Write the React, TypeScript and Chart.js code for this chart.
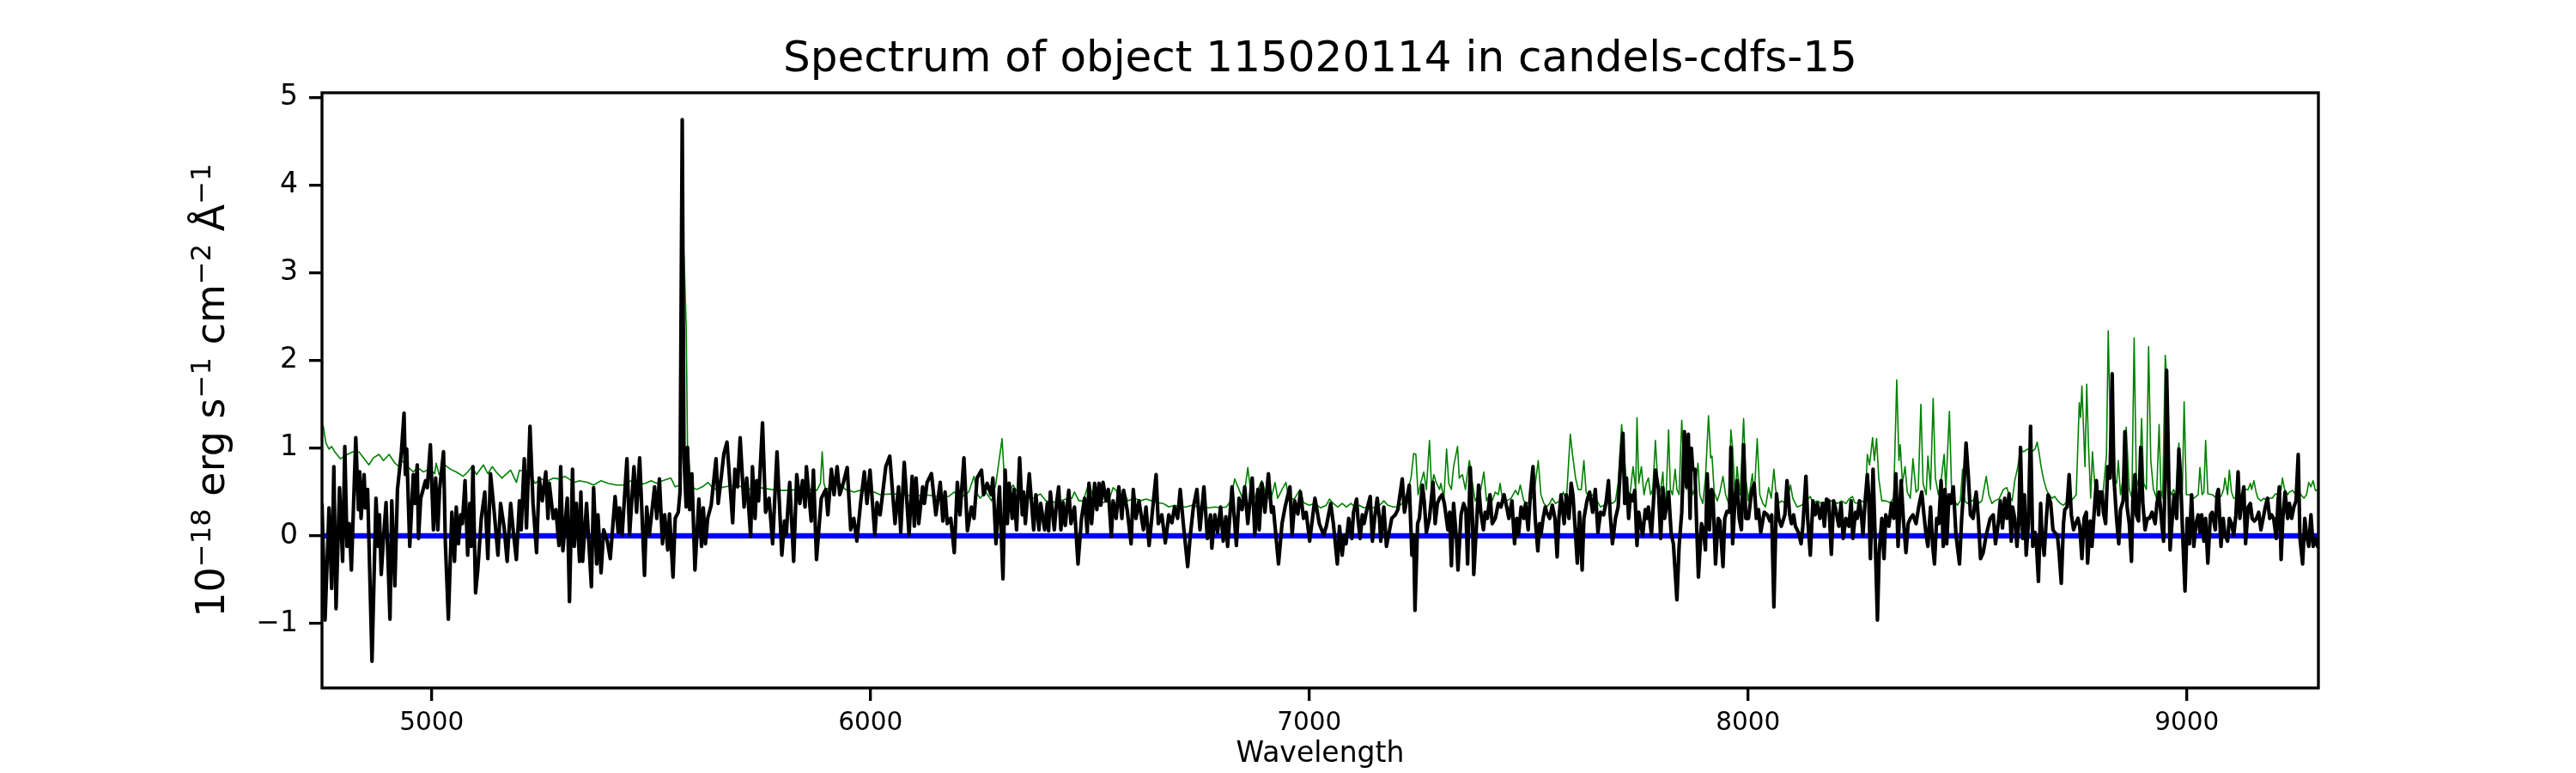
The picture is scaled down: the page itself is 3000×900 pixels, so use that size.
import React, { useEffect, useRef } from "react";
import { Chart, registerables } from "chart.js";

Chart.register(...registerables);

const TITLE = "Spectrum of object 115020114 in candels-cdfs-15";
const X_TITLE = "Wavelength";
const Y_TITLE_PARTS: [string, boolean][] = [
  ["10", false],
  ["\u221218", true],
  [" erg s", false],
  ["\u22121", true],
  [" cm", false],
  ["\u22122", true],
  [" \u00C5", false],
  ["\u22121", true],
];
const X_TICKS = [5000, 6000, 7000, 8000, 9000];
const Y_TICKS = [-1, 0, 1, 2, 3, 4, 5];
const X_RANGE = [4750, 9300];
const Y_RANGE = [-1.735, 5.056];

// observed flux (black)
const FLUX: [number, number][] = [
  [4750,0.37],[4757,-0.96],[4766,0.32],[4772,-0.60],[4777,0.79],[4782,-0.83],[4790,0.55],[4797,-0.29],[4802,1.02],[4807,-0.12],
  [4812,0.14],[4817,-0.39],[4827,1.12],[4833,0.30],[4836,0.73],[4839,0.20],[4846,0.70],[4849,0.32],[4854,0.53],[4864,-1.43],
  [4873,0.43],[4878,-0.12],[4881,0.24],[4885,-0.44],[4890,-0.03],[4896,0.38],[4905,-0.95],[4909,0.40],[4916,-0.57],[4922,0.53],
  [4931,0.96],[4937,1.40],[4940,0.70],[4943,0.99],[4950,-0.12],[4958,0.70],[4962,0.37],[4967,0.81],[4970,-0.03],[4975,0.43],
  [4986,0.63],[4990,0.55],[4997,1.04],[5004,0.07],[5009,0.66],[5014,0.07],[5018,0.53],[5027,0.96],[5031,-0.06],[5038,-0.95],
  [5046,0.27],[5052,-0.29],[5056,0.33],[5061,-0.09],[5066,0.24],[5070,0.14],[5076,0.63],[5082,-0.22],[5087,0.37],[5090,-0.12],
  [5094,0.79],[5100,-0.65],[5105,-0.39],[5113,0.20],[5121,0.50],[5128,-0.26],[5134,0.71],[5142,0.30],[5151,-0.22],[5157,0.37],
  [5165,0.10],[5172,-0.29],[5180,0.37],[5186,0.05],[5193,-0.27],[5200,0.40],[5204,0.07],[5211,0.88],[5216,0.09],[5224,1.25],
  [5231,0.37],[5239,-0.19],[5245,0.66],[5252,0.40],[5260,0.73],[5265,0.20],[5268,0.60],[5277,0.20],[5283,0.30],[5290,-0.11],
  [5294,0.79],[5299,-0.17],[5309,0.43],[5314,-0.75],[5321,0.76],[5325,-0.12],[5330,0.37],[5337,-0.29],[5340,0.50],[5344,-0.29],
  [5353,0.37],[5364,-0.58],[5369,0.55],[5376,-0.32],[5379,0.24],[5386,-0.42],[5392,0.07],[5400,-0.05],[5407,-0.26],[5418,0.45],
  [5425,0.04],[5428,0.32],[5434,0.01],[5445,0.88],[5451,0.01],[5461,0.79],[5467,0.27],[5474,0.89],[5485,-0.45],[5490,0.33],
  [5496,0.01],[5508,0.56],[5513,0.20],[5519,0.65],[5526,-0.09],[5531,0.24],[5538,-0.16],[5542,0.25],[5550,-0.47],[5555,0.20],
  [5562,0.27],[5566,0.50],[5571,4.75],[5575,0.90],[5580,0.33],[5583,1.01],[5588,0.30],[5593,0.71],[5600,-0.39],[5609,0.42],
  [5615,-0.12],[5619,0.32],[5624,-0.09],[5629,0.20],[5637,0.35],[5648,0.88],[5653,0.37],[5666,0.94],[5673,1.07],[5686,0.15],
  [5691,0.76],[5697,0.56],[5703,1.12],[5712,0.33],[5718,0.66],[5727,-0.01],[5731,0.79],[5737,0.20],[5741,0.63],[5745,0.40],
  [5754,1.29],[5761,0.27],[5769,0.43],[5777,-0.09],[5787,0.96],[5798,-0.22],[5804,0.17],[5808,0.01],[5812,0.33],[5816,0.61],
  [5825,-0.29],[5832,0.70],[5839,0.37],[5845,0.63],[5851,0.33],[5854,0.79],[5865,0.17],[5870,0.75],[5877,-0.27],[5888,0.43],
  [5898,0.53],[5903,0.24],[5911,0.76],[5917,0.47],[5924,0.79],[5930,0.47],[5938,0.60],[5947,0.78],[5955,0.07],[5962,0.20],
  [5969,-0.06],[5978,0.40],[5986,0.73],[5992,0.37],[5999,0.75],[6010,0.01],[6015,0.38],[6022,0.24],[6035,0.79],[6044,0.91],
  [6056,0.14],[6064,0.56],[6069,0.04],[6077,0.84],[6088,0.01],[6095,0.68],[6100,0.11],[6104,0.66],[6110,0.14],[6119,0.56],
  [6123,0.37],[6129,0.61],[6139,0.71],[6149,0.24],[6159,0.61],[6165,0.17],[6170,0.50],[6175,0.14],[6183,0.20],[6191,-0.19],
  [6198,0.61],[6204,0.24],[6213,0.89],[6221,0.06],[6230,0.33],[6236,0.20],[6243,0.66],[6253,0.75],[6258,0.47],[6266,0.60],
  [6275,0.47],[6279,0.66],[6286,-0.09],[6294,0.56],[6302,-0.49],[6307,0.75],[6312,0.14],[6316,0.60],[6323,0.20],[6327,0.53],
  [6333,0.07],[6340,0.89],[6346,0.24],[6349,0.50],[6353,0.14],[6362,0.71],[6372,0.07],[6377,0.47],[6384,0.07],[6388,0.37],
  [6397,0.07],[6403,0.37],[6406,0.06],[6410,0.50],[6419,0.07],[6424,0.37],[6429,0.56],[6434,0.07],[6439,0.38],[6444,0.12],
  [6452,0.52],[6457,0.14],[6465,0.33],[6473,-0.32],[6481,0.20],[6488,0.43],[6494,0.04],[6498,0.60],[6504,0.14],[6511,0.60],
  [6516,0.30],[6521,0.60],[6525,0.35],[6530,0.61],[6537,0.40],[6542,0.53],[6549,-0.01],[6553,0.40],[6560,0.20],[6566,0.56],
  [6573,0.20],[6577,0.52],[6585,0.30],[6594,-0.09],[6599,0.53],[6605,0.20],[6612,0.40],[6622,0.07],[6628,0.33],[6635,-0.11],
  [6643,0.30],[6651,0.70],[6656,0.14],[6664,0.24],[6672,-0.08],[6680,0.24],[6687,0.15],[6693,0.33],[6700,0.20],[6706,0.53],
  [6713,0.14],[6723,-0.35],[6729,0.01],[6736,0.33],[6744,0.53],[6751,0.07],[6760,0.56],[6768,-0.03],[6775,0.24],[6778,-0.14],
  [6785,0.24],[6791,0.04],[6798,0.33],[6804,-0.06],[6810,0.22],[6814,-0.12],[6824,0.56],[6834,-0.11],[6840,0.43],[6847,0.30],
  [6853,0.56],[6860,0.14],[6870,0.66],[6876,0.01],[6883,0.53],[6886,0.07],[6892,0.60],[6899,0.27],[6907,0.71],[6914,0.27],
  [6918,0.33],[6930,-0.32],[6938,0.14],[6945,0.33],[6956,0.56],[6961,0.01],[6967,0.40],[6974,0.25],[6980,0.50],[6987,0.20],
  [6993,0.27],[7001,-0.06],[7013,0.43],[7023,0.14],[7033,0.01],[7039,0.11],[7049,0.37],[7055,0.14],[7064,-0.32],[7069,0.11],
  [7075,-0.22],[7080,0.01],[7084,-0.09],[7090,0.20],[7097,-0.03],[7101,0.27],[7108,0.42],[7111,0.20],[7116,-0.03],[7121,0.24],
  [7125,0.14],[7130,0.27],[7139,0.45],[7144,-0.06],[7149,0.20],[7155,0.43],[7160,0.20],[7163,-0.06],[7170,0.33],[7176,-0.12],
  [7181,0.01],[7188,0.20],[7196,0.24],[7202,0.30],[7212,0.65],[7217,0.27],[7220,0.35],[7228,0.58],[7234,-0.22],[7238,0.01],
  [7241,-0.85],[7247,0.14],[7251,0.20],[7258,0.58],[7262,0.40],[7267,0.04],[7274,0.20],[7282,0.61],[7287,0.14],[7292,0.37],
  [7297,0.43],[7303,0.47],[7308,0.37],[7316,0.07],[7320,0.27],[7324,-0.34],[7329,0.37],[7336,-0.06],[7339,-0.39],[7346,0.24],
  [7352,0.37],[7357,0.30],[7361,-0.32],[7367,0.78],[7372,0.20],[7375,-0.44],[7382,0.20],[7386,0.58],[7391,0.27],[7397,0.07],
  [7401,0.27],[7406,0.20],[7412,0.47],[7417,0.14],[7424,0.20],[7431,0.37],[7437,0.33],[7444,0.47],[7450,0.33],[7455,0.20],
  [7462,0.40],[7468,-0.09],[7473,0.20],[7477,0.01],[7483,0.33],[7489,0.20],[7493,0.37],[7499,0.07],[7504,0.47],[7510,0.79],
  [7515,0.20],[7521,-0.17],[7525,0.14],[7528,0.01],[7533,0.20],[7538,0.33],[7541,0.27],[7548,0.20],[7554,0.35],[7560,0.20],
  [7565,-0.24],[7569,0.20],[7574,0.47],[7581,0.14],[7586,0.47],[7592,0.20],[7597,0.60],[7601,0.47],[7607,0.01],[7611,-0.31],
  [7616,0.27],[7622,-0.39],[7626,0.20],[7633,0.40],[7639,0.50],[7646,0.27],[7652,0.53],[7658,0.04],[7664,0.27],[7671,0.24],
  [7677,0.40],[7682,0.63],[7686,0.24],[7691,-0.09],[7698,0.20],[7704,0.33],[7711,0.93],[7715,1.17],[7719,0.37],[7723,0.66],
  [7728,0.20],[7732,0.47],[7737,0.40],[7742,0.52],[7747,-0.11],[7751,0.27],[7755,0.14],[7760,0.01],[7766,0.30],[7770,0.20],
  [7773,0.33],[7780,0.01],[7789,0.75],[7796,0.53],[7801,-0.03],[7806,0.55],[7810,0.20],[7819,0.50],[7825,0.02],[7830,-0.09],
  [7838,-0.73],[7843,-0.12],[7849,0.27],[7855,1.19],[7860,0.56],[7864,1.16],[7868,0.20],[7871,1.00],[7874,0.76],[7879,0.76],
  [7882,0.27],[7887,-0.47],[7894,0.14],[7899,0.04],[7903,-0.16],[7907,0.71],[7912,0.07],[7917,0.53],[7920,0.47],[7926,-0.32],
  [7932,0.20],[7936,0.17],[7943,-0.35],[7947,0.20],[7952,0.28],[7958,0.27],[7961,1.01],[7965,-0.09],[7971,0.47],[7975,0.63],
  [7980,0.20],[7985,0.07],[7990,1.04],[7995,0.20],[8001,0.20],[8008,0.50],[8014,0.60],[8019,0.20],[8024,0.30],[8029,0.04],
  [8037,0.27],[8044,0.24],[8050,0.17],[8054,0.24],[8059,-0.81],[8065,0.48],[8070,0.20],[8076,0.11],[8084,0.24],[8089,0.63],
  [8095,0.24],[8099,0.14],[8104,0.24],[8108,0.11],[8115,0.04],[8121,-0.09],[8125,0.11],[8132,0.68],[8136,0.20],[8142,-0.22],
  [8148,0.40],[8153,0.24],[8158,0.37],[8164,0.20],[8170,0.37],[8174,0.11],[8179,0.42],[8184,0.40],[8190,-0.21],[8195,0.40],
  [8200,0.30],[8207,0.11],[8212,0.37],[8217,-0.03],[8223,0.20],[8230,0.11],[8235,0.40],[8239,-0.03],[8245,0.27],[8249,0.20],
  [8254,0.40],[8259,0.20],[8262,0.01],[8267,0.40],[8272,0.70],[8275,0.47],[8279,-0.26],[8285,0.76],[8290,-0.06],[8295,-0.96],
  [8299,-0.19],[8305,0.20],[8310,-0.26],[8314,0.24],[8321,0.11],[8327,0.37],[8332,0.20],[8337,0.71],[8342,-0.12],[8349,0.63],
  [8354,0.20],[8360,-0.19],[8365,0.14],[8370,0.20],[8376,0.24],[8383,0.14],[8389,0.33],[8396,0.50],[8401,0.24],[8406,0.01],
  [8410,-0.12],[8416,0.33],[8421,-0.12],[8425,-0.32],[8430,0.20],[8435,0.14],[8440,0.63],[8445,-0.12],[8449,0.53],[8453,-0.09],
  [8458,0.47],[8462,0.37],[8468,0.56],[8474,0.01],[8482,-0.32],[8487,0.20],[8492,0.56],[8497,1.06],[8502,0.70],[8507,0.24],
  [8513,0.20],[8520,0.50],[8525,0.20],[8530,-0.26],[8536,-0.19],[8543,0.01],[8552,0.20],[8559,0.24],[8564,-0.09],[8571,0.17],
  [8575,0.40],[8580,0.09],[8585,0.43],[8590,0.20],[8595,0.48],[8600,-0.06],[8603,0.33],[8608,0.20],[8613,-0.12],[8617,0.14],
  [8621,1.01],[8626,-0.03],[8630,0.47],[8634,-0.22],[8639,0.14],[8644,1.25],[8649,-0.12],[8654,0.04],[8657,-0.06],[8662,-0.52],
  [8667,0.37],[8670,0.01],[8675,-0.22],[8680,0.20],[8684,0.47],[8690,0.37],[8695,0.07],[8699,0.04],[8705,0.01],[8709,-0.19],
  [8714,-0.54],[8719,0.14],[8722,0.30],[8727,0.33],[8732,0.70],[8737,0.24],[8742,0.07],[8747,0.14],[8752,0.20],[8756,0.11],
  [8761,-0.26],[8766,0.20],[8771,0.27],[8774,-0.31],[8780,0.17],[8784,-0.12],[8789,0.27],[8794,0.63],[8799,0.24],[8802,0.50],
  [8807,0.50],[8810,0.27],[8815,0.14],[8820,0.79],[8825,0.66],[8830,1.85],[8834,0.66],[8840,0.20],[8845,-0.09],[8849,0.30],
  [8855,0.40],[8859,1.19],[8864,0.33],[8869,0.14],[8874,-0.29],[8877,0.40],[8882,0.70],[8885,0.24],[8890,0.17],[8895,1.01],
  [8900,0.37],[8905,0.07],[8910,0.20],[8915,0.20],[8921,0.27],[8928,0.14],[8932,0.37],[8937,0.50],[8943,0.14],[8947,-0.06],
  [8952,0.89],[8954,1.89],[8957,1.19],[8962,-0.16],[8967,0.20],[8971,0.47],[8977,0.20],[8982,0.99],[8986,0.66],[8991,-0.03],
  [8996,-0.63],[9001,0.20],[9006,-0.09],[9011,0.47],[9016,-0.12],[9021,0.14],[9026,0.24],[9030,0.04],[9034,0.24],[9039,-0.06],
  [9043,0.20],[9048,-0.31],[9054,0.24],[9058,0.27],[9065,0.07],[9069,0.47],[9072,0.53],[9078,-0.12],[9083,0.20],[9087,0.01],
  [9093,-0.06],[9097,0.20],[9102,0.14],[9107,0.01],[9112,0.24],[9117,0.73],[9121,0.20],[9125,0.37],[9130,0.56],[9134,-0.09],
  [9140,0.33],[9145,0.37],[9149,0.20],[9154,0.17],[9159,0.20],[9164,0.27],[9169,0.07],[9174,0.20],[9179,0.33],[9184,0.43],
  [9189,0.20],[9193,0.24],[9198,0.20],[9204,-0.03],[9208,0.40],[9211,0.56],[9215,-0.27],[9219,0.20],[9224,0.50],[9230,0.20],
  [9234,0.37],[9239,0.20],[9244,0.33],[9249,0.40],[9254,0.93],[9258,-0.03],[9264,-0.32],[9269,0.20],[9273,0.01],[9278,-0.12],
  [9283,0.24],[9288,-0.12],[9293,-0.03],[9298,-0.12],[9302,-0.05],
];

// noise spectrum (green)
const NOISE: [number, number][] = [
  [4750,1.22],[4753,1.25],[4759,1.06],[4766,0.99],[4772,1.02],[4779,0.96],[4792,0.88],[4808,0.93],[4821,0.96],[4834,0.96],
  [4857,0.81],[4867,0.89],[4880,0.93],[4890,0.86],[4903,0.93],[4916,0.83],[4926,0.79],[4932,0.86],[4945,0.79],[4958,0.73],
  [4968,0.78],[4981,0.73],[4994,0.76],[5007,0.71],[5010,0.83],[5017,0.70],[5030,0.81],[5043,0.76],[5056,0.73],[5072,0.68],
  [5082,0.73],[5092,0.79],[5102,0.70],[5118,0.81],[5128,0.71],[5138,0.79],[5147,0.73],[5160,0.66],[5180,0.75],[5193,0.61],
  [5200,0.75],[5219,0.73],[5236,0.60],[5249,0.65],[5265,0.63],[5278,0.66],[5291,0.65],[5304,0.68],[5324,0.61],[5337,0.63],
  [5356,0.61],[5369,0.58],[5386,0.63],[5402,0.60],[5421,0.58],[5441,0.58],[5454,0.63],[5467,0.58],[5487,0.60],[5500,0.63],
  [5513,0.60],[5526,0.63],[5545,0.66],[5555,0.56],[5566,0.58],[5575,3.20],[5580,2.40],[5583,1.02],[5591,0.56],[5604,0.53],
  [5617,0.56],[5630,0.61],[5643,0.53],[5669,0.56],[5695,0.58],[5721,0.53],[5748,0.55],[5774,0.53],[5793,0.52],[5813,0.52],
  [5839,0.53],[5865,0.53],[5878,0.52],[5886,0.60],[5890,0.96],[5894,0.60],[5898,0.53],[5930,0.60],[5943,0.53],[5963,0.50],
  [5982,0.53],[6009,0.50],[6022,0.47],[6048,0.48],[6074,0.47],[6100,0.45],[6126,0.47],[6152,0.45],[6178,0.45],[6191,0.50],
  [6204,0.43],[6224,0.50],[6236,0.68],[6243,0.48],[6250,0.43],[6263,0.50],[6276,0.40],[6286,0.60],[6300,1.11],[6305,0.66],
  [6312,0.47],[6325,0.58],[6331,0.53],[6341,0.45],[6354,0.43],[6371,0.43],[6387,0.48],[6400,0.40],[6413,0.38],[6433,0.40],
  [6446,0.42],[6459,0.43],[6465,0.50],[6475,0.40],[6485,0.40],[6498,0.61],[6506,0.47],[6517,0.40],[6530,0.38],[6543,0.40],
  [6553,0.55],[6560,0.52],[6569,0.40],[6576,0.53],[6586,0.40],[6602,0.43],[6615,0.40],[6628,0.42],[6641,0.40],[6654,0.38],
  [6667,0.37],[6680,0.33],[6693,0.35],[6706,0.33],[6720,0.33],[6733,0.35],[6746,0.33],[6759,0.33],[6772,0.32],[6785,0.33],
  [6798,0.32],[6811,0.33],[6821,0.40],[6830,0.65],[6840,0.53],[6850,0.40],[6860,0.78],[6866,0.53],[6873,0.40],[6883,0.53],
  [6892,0.63],[6902,0.47],[6912,0.40],[6922,0.61],[6928,0.43],[6938,0.53],[6947,0.61],[6954,0.40],[6967,0.43],[6979,0.53],
  [6987,0.38],[7000,0.35],[7013,0.37],[7026,0.32],[7039,0.35],[7046,0.42],[7055,0.37],[7065,0.33],[7075,0.37],[7085,0.33],
  [7095,0.37],[7104,0.33],[7114,0.35],[7124,0.32],[7134,0.33],[7144,0.32],[7157,0.33],[7170,0.40],[7179,0.35],[7192,0.33],
  [7202,0.33],[7212,0.37],[7222,0.47],[7232,0.66],[7238,0.94],[7243,0.93],[7248,0.47],[7254,0.60],[7261,0.73],[7267,0.53],
  [7274,1.09],[7279,0.53],[7284,0.70],[7290,0.60],[7297,0.53],[7300,0.60],[7307,0.43],[7313,0.99],[7318,0.60],[7324,0.53],
  [7329,0.79],[7338,1.02],[7342,0.66],[7349,0.70],[7356,0.53],[7359,0.66],[7365,0.86],[7372,0.60],[7378,0.40],[7385,0.47],
  [7391,0.53],[7398,0.73],[7404,0.40],[7411,0.47],[7417,0.40],[7424,0.50],[7431,0.47],[7435,0.60],[7440,0.43],[7450,0.40],
  [7460,0.43],[7470,0.52],[7476,0.47],[7481,0.58],[7489,0.40],[7496,0.37],[7504,0.40],[7512,0.47],[7522,0.86],[7528,0.47],
  [7535,0.37],[7541,0.33],[7548,0.37],[7554,0.43],[7561,0.37],[7571,0.40],[7579,0.50],[7586,0.40],[7595,1.16],[7600,0.93],
  [7607,0.66],[7613,0.53],[7620,0.53],[7626,0.86],[7631,0.50],[7639,0.43],[7646,0.47],[7656,0.40],[7664,0.33],[7672,0.35],
  [7682,0.40],[7691,0.37],[7698,0.40],[7704,0.60],[7712,1.27],[7718,0.93],[7724,0.53],[7731,0.47],[7738,0.79],[7744,0.53],
  [7747,1.35],[7751,0.60],[7757,0.79],[7763,0.47],[7768,0.60],[7773,0.66],[7778,0.47],[7783,0.53],[7789,1.09],[7796,0.47],
  [7801,0.53],[7806,0.73],[7810,0.33],[7814,0.53],[7819,1.21],[7823,0.53],[7828,0.47],[7834,0.76],[7838,0.53],[7843,0.47],
  [7849,1.32],[7855,0.66],[7860,0.53],[7864,1.12],[7868,0.70],[7874,0.47],[7879,0.53],[7886,0.83],[7890,0.47],[7897,0.37],
  [7903,0.66],[7910,1.37],[7915,0.89],[7918,0.91],[7923,0.50],[7930,0.40],[7936,0.50],[7943,0.68],[7949,0.47],[7956,0.37],
  [7961,1.21],[7965,1.00],[7971,0.40],[7975,0.79],[7982,0.47],[7990,1.34],[7995,0.66],[8001,0.40],[8010,0.71],[8014,0.43],
  [8021,1.11],[8027,0.47],[8034,0.37],[8040,0.33],[8047,0.55],[8053,0.43],[8059,0.76],[8063,0.53],[8070,0.37],[8076,0.40],
  [8083,0.38],[8089,0.40],[8097,0.58],[8102,0.43],[8112,0.33],[8122,0.35],[8132,0.40],[8142,0.45],[8148,0.37],[8158,0.40],
  [8168,0.37],[8181,0.40],[8194,0.40],[8204,0.37],[8213,0.40],[8223,0.37],[8230,0.42],[8238,0.45],[8243,0.38],[8252,0.37],
  [8259,0.40],[8267,0.37],[8272,0.93],[8277,0.81],[8284,1.12],[8288,0.86],[8293,1.11],[8298,0.66],[8305,0.40],[8314,0.40],
  [8324,0.38],[8332,0.43],[8339,1.78],[8344,0.86],[8347,1.04],[8352,0.60],[8358,0.79],[8363,0.50],[8370,0.43],[8376,0.88],
  [8383,0.50],[8388,0.53],[8394,1.50],[8399,0.60],[8406,0.47],[8410,0.91],[8416,0.53],[8422,1.57],[8427,0.66],[8434,0.47],
  [8440,0.63],[8447,0.93],[8451,0.53],[8459,1.42],[8464,0.53],[8471,0.40],[8477,0.35],[8484,0.40],[8489,0.76],[8494,0.40],
  [8500,0.37],[8507,0.40],[8513,0.40],[8520,0.50],[8526,0.37],[8533,0.40],[8543,0.68],[8549,0.47],[8556,0.37],[8562,0.40],
  [8572,0.42],[8582,0.53],[8590,0.55],[8595,0.47],[8602,0.40],[8608,0.63],[8615,0.79],[8621,0.99],[8628,0.96],[8637,0.99],
  [8647,0.96],[8654,0.99],[8659,1.07],[8663,0.96],[8668,0.79],[8673,0.66],[8680,0.53],[8686,0.47],[8693,0.43],[8699,0.45],
  [8706,0.40],[8712,0.37],[8719,0.35],[8725,0.38],[8735,0.40],[8742,0.43],[8748,0.47],[8755,1.52],[8758,1.35],[8761,1.71],
  [8768,0.79],[8772,1.73],[8776,1.03],[8781,0.43],[8785,0.96],[8791,0.53],[8797,0.45],[8804,0.47],[8810,0.53],[8817,0.92],
  [8821,2.34],[8827,0.86],[8833,0.66],[8840,0.60],[8844,0.86],[8849,0.47],[8856,0.70],[8862,1.24],[8869,0.53],[8875,0.43],
  [8880,2.26],[8885,0.66],[8892,0.53],[8897,1.34],[8902,0.60],[8908,0.53],[8913,2.16],[8918,0.86],[8924,0.53],[8931,0.43],
  [8937,1.27],[8941,0.53],[8945,0.43],[8951,2.06],[8956,1.68],[8959,0.56],[8965,0.47],[8970,0.53],[8975,0.47],[8982,1.06],
  [8986,0.66],[8990,0.53],[8994,1.53],[8999,0.47],[9006,0.47],[9016,0.43],[9026,0.47],[9030,0.78],[9035,0.47],[9039,0.50],
  [9043,1.09],[9048,0.48],[9058,0.47],[9068,0.43],[9078,0.45],[9084,0.53],[9087,0.66],[9093,0.47],[9097,0.75],[9102,0.50],
  [9107,0.43],[9114,0.43],[9123,0.47],[9133,0.53],[9140,0.53],[9145,0.60],[9148,0.53],[9153,0.63],[9158,0.50],[9162,0.43],
  [9169,0.40],[9176,0.43],[9182,0.40],[9189,0.43],[9195,0.43],[9202,0.48],[9208,0.47],[9215,0.53],[9218,0.66],[9223,0.53],
  [9230,0.47],[9234,0.50],[9241,0.52],[9247,0.48],[9254,0.53],[9260,0.47],[9267,0.43],[9273,0.47],[9278,0.61],[9283,0.56],
  [9288,0.63],[9293,0.52],[9298,0.52],[9302,0.55],
];

// zero level (blue)
const ZERO: [number, number][] = [
  [4750, 0],
  [9302, 0],
];

const FONT = '"DejaVu Sans", "Liberation Sans", sans-serif';

export default function App() {
  const ref = useRef<HTMLCanvasElement>(null);

  useEffect(() => {
    document.body.style.margin = "0";
    const canvas = ref.current;
    if (!canvas) return;
    const toXY = (arr: [number, number][]) => arr.map(([x, y]) => ({ x, y }));

    const decor = {
      id: "decor",
      afterDatasetsDraw(chart: any) {
        const { ctx, chartArea: a } = chart;
        ctx.save();
        ctx.strokeStyle = "#000";
        ctx.lineWidth = 3.33;
        ctx.strokeRect(a.left, a.top, a.right - a.left, a.bottom - a.top);
        ctx.restore();
      },
      afterDraw(chart: any) {
        const { ctx, chartArea: a } = chart;
        const cx = (a.left + a.right) / 2;
        const cy = (a.top + a.bottom) / 2;
        ctx.save();
        ctx.fillStyle = "#000";
        ctx.textAlign = "center";
        ctx.textBaseline = "alphabetic";
        ctx.font = `50px ${FONT}`;
        ctx.fillText(TITLE, cx, 83);
        ctx.font = `33px ${FONT}`;
        ctx.fillText(X_TITLE, cx, 887);

        // y-axis title with superscripts
        const F = 46;
        const S = F * 0.7;
        const rise = F * 0.35;
        ctx.translate(261, cy);
        ctx.rotate(-Math.PI / 2);
        ctx.textAlign = "left";
        let total = 0;
        const widths: number[] = [];
        for (const [t, sup] of Y_TITLE_PARTS) {
          ctx.font = `${sup ? S : F}px ${FONT}`;
          const w = ctx.measureText(t).width;
          widths.push(w);
          total += w;
        }
        let x = -total / 2;
        Y_TITLE_PARTS.forEach(([t, sup], i) => {
          ctx.font = `${sup ? S : F}px ${FONT}`;
          ctx.fillText(t, x, sup ? -rise : 0);
          x += widths[i];
        });
        ctx.restore();
      },
    };

    const lineDs = (data: [number, number][], color: string, width: number) => ({
      data: toXY(data),
      borderColor: color,
      backgroundColor: color,
      borderWidth: width,
      pointRadius: 0,
      pointHoverRadius: 0,
      tension: 0,
      fill: false,
      borderJoinStyle: "round" as const,
      clip: 0,
    });

    const chart = new Chart(canvas, {
      type: "line",
      data: {
        datasets: [
          lineDs(FLUX, "#000000", 4.2),
          lineDs(NOISE, "#008000", 1.6),
          lineDs(ZERO, "#0000ff", 6.25),
        ],
      },
      options: {
        animation: false,
        responsive: false,
        maintainAspectRatio: false,
        devicePixelRatio: 1,
        events: [],
        layout: { padding: { top: 108, right: 300, bottom: 0, left: 0 } },
        plugins: {
          legend: { display: false },
          title: { display: false },
          tooltip: { enabled: false },
        },
        scales: {
          x: {
            type: "linear",
            min: X_RANGE[0],
            max: X_RANGE[1],
            afterFit: (s: any) => {
              s.height = 99;
            },
            afterBuildTicks: (s: any) => {
              s.ticks = X_TICKS.map((v) => ({ value: v }));
            },
            grid: {
              drawOnChartArea: false,
              drawTicks: true,
              tickLength: 15,
              lineWidth: 3.33,
              color: "#000",
            },
            border: { display: false },
            ticks: {
              color: "#000",
              font: { family: FONT, size: 29.5 },
              padding: 9,
              maxRotation: 0,
              autoSkip: false,
              callback: (v: any) => String(v),
            },
          },
          y: {
            type: "linear",
            min: Y_RANGE[0],
            max: Y_RANGE[1],
            afterFit: (s: any) => {
              s.width = 375;
            },
            afterBuildTicks: (s: any) => {
              s.ticks = Y_TICKS.map((v) => ({ value: v }));
            },
            grid: {
              drawOnChartArea: false,
              drawTicks: true,
              tickLength: 15,
              lineWidth: 3.33,
              color: "#000",
            },
            border: { display: false },
            ticks: {
              color: "#000",
              font: { family: FONT, size: 33 },
              padding: 13,
              autoSkip: false,
              callback: (v: any) => (Number(v) < 0 ? "\u2212" + Math.abs(Number(v)) : String(v)),
            },
          },
        },
      },
      plugins: [decor],
    } as any);

    return () => chart.destroy();
  }, []);

  return (
    <canvas
      ref={ref}
      width={3000}
      height={900}
      style={{ display: "block", width: 3000, height: 900 }}
    />
  );
}
